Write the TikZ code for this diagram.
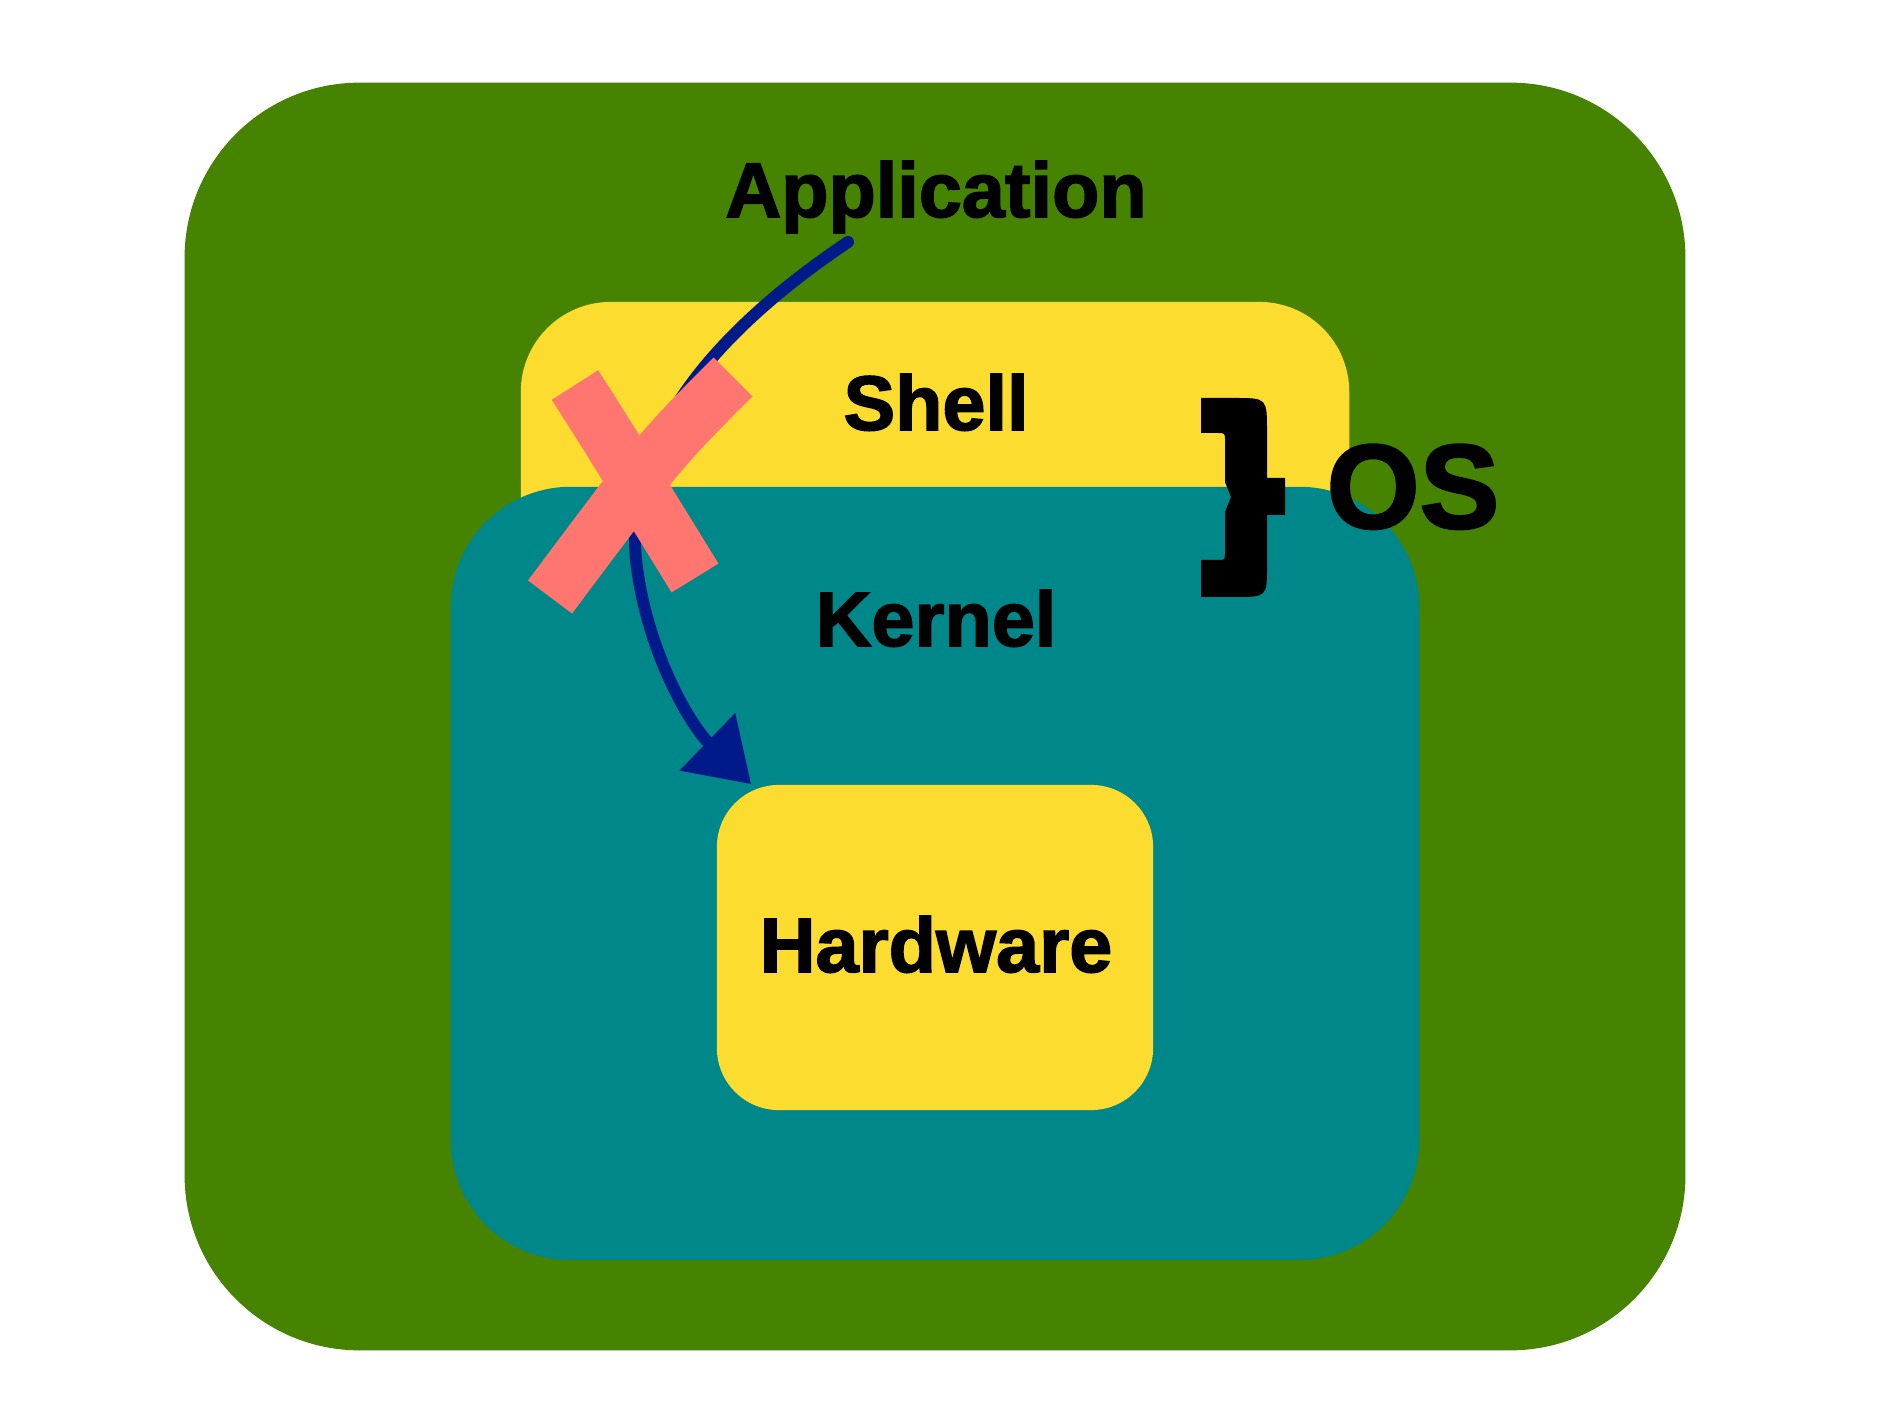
\documentclass[tikz,border=0pt]{standalone}
\usepackage{fontspec}
\setmainfont{Liberation Sans}
\newfontfamily\heavyfont{Liberation Sans Bold}[FakeBold=2]
\usetikzlibrary{positioning,arrows.meta}

\definecolor{appgreen}{HTML}{468300}
\definecolor{shellyellow}{HTML}{FCDD2F}
\definecolor{kernelteal}{HTML}{008789}
\definecolor{arrownavy}{HTML}{001A8A}
\definecolor{crossred}{HTML}{FF7570}

\tikzset{
  layerbox/.style={rectangle, draw=none, inner sep=0pt},
  layerlabel/.style={anchor=base, font=\heavyfont\fontsize{22}{27}\selectfont},
  crossstroke/.style={crossred, line width=0.55cm, line cap=butt},
}

\begin{document}
\begin{tikzpicture}[x=0.01cm, y=-0.01cm]
  % canvas 1894 x 1416, y runs downwards
  \useasboundingbox[fill=white] (0,0) rectangle (1894,1416);
  % layers, outermost first
  \node[layerbox, fill=appgreen, rounded corners=1.75cm,
        minimum width=15cm, minimum height=12.67cm] (appbox) at (935,716.5) {};
  \node[layerbox, fill=shellyellow, rounded corners=0.9cm,
        minimum width=8.28cm, minimum height=3.5cm] (shellbox) at (935,477) {};
  \node[layerbox, fill=kernelteal, rounded corners=1.2cm,
        minimum width=9.68cm, minimum height=7.73cm] (kernelbox) at (935,873.5) {};
  \node[layerbox, fill=shellyellow, rounded corners=0.62cm,
        minimum width=4.36cm, minimum height=3.25cm] (hwbox) at (935,947.5) {};
  % labels
  \node[layerlabel] (applabel) at (936,217) {Application};
  \node[layerlabel] (shelllabel) at (936,430) {Shell};
  \node[layerlabel] (kernellabel) at (936,646) {Kernel};
  \node[layerlabel] (hwlabel) at (936,972) {Hardware};
  \node[anchor=base, font=\heavyfont\fontsize{34}{40}\selectfont] (oslabel) at (1413,528) {OS};
  % brace grouping shell and kernel
  \fill[black] (1201,398) -- (1235,398) .. controls (1267,398) .. (1267,432)
    -- (1267,478) -- (1285,478) -- (1285,515) -- (1267,515) -- (1267,565)
    .. controls (1267,597) .. (1235,597) -- (1201,597) -- (1201,560)
    -- (1218,560) .. controls (1225,560) .. (1225,552) -- (1225,512)
    -- (1231,497) -- (1225,482) -- (1225,441) .. controls (1225,433) .. (1218,433)
    -- (1201,433) -- cycle;
  % call that skips the shell
  \coordinate (arrstart) at (848,242);
  \coordinate (arrend) at ([xshift=0.35cm]hwbox.north west);
  \draw[arrownavy, line width=0.12cm, line cap=round,
        -{Triangle[length=0.61cm, width=0.77cm]}]
    (arrstart) .. controls (710,335) and (625,440) .. (636,560)
    .. controls (646,650) and (690,725) .. (arrend);
  % crossed out
  \draw[crossstroke] (575,385) .. controls (610,440) .. (695,578);
  \draw[crossstroke] (733,377) .. controls (660,450) .. (550,597);
\end{tikzpicture}
\end{document}
